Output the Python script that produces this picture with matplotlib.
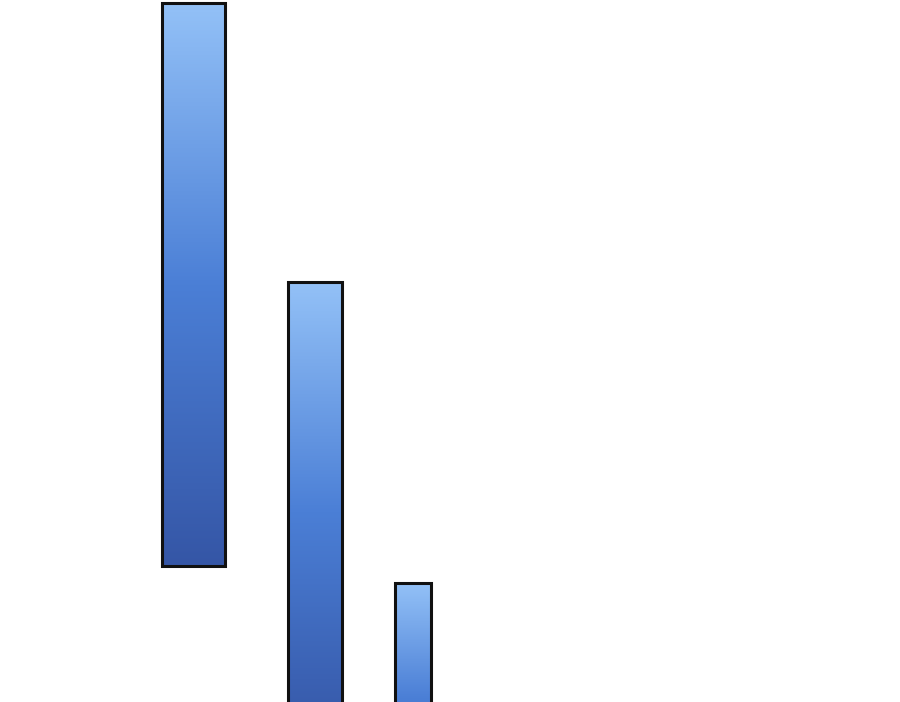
import matplotlib
matplotlib.use("Agg")
import matplotlib.pyplot as plt
import numpy as np
from matplotlib.colors import LinearSegmentedColormap

# valores das barras (escala do eixo = pixels da figura, y para cima)
categorias = ["A", "B", "C"]
inicio = [136, -40, -110]
fim = [699, 420, 119]

# layout
centros = [193, 314.5, 412.5]
larguras = [63, 54, 36]

cmap = LinearSegmentedColormap.from_list("azul", ["#3556a6", "#4b7fd6", "#93c1f7"])

fig = plt.figure(figsize=(9, 7.02), dpi=100)
ax = fig.add_axes([0, 0, 1, 1])
ax.set_xlim(0, 900)
ax.set_ylim(0, 702)
ax.axis("off")

grad = np.linspace(0, 1, 256).reshape(-1, 1)
for c, w, y0, y1 in zip(centros, larguras, inicio, fim):
    barra = ax.bar(c, y1 - y0, width=w, bottom=y0, facecolor="none",
                   edgecolor="#111111", linewidth=2.2, zorder=3)[0]
    img = ax.imshow(grad, cmap=cmap, aspect="auto", origin="lower",
                    extent=[c - w / 2, c + w / 2, y0, y1], zorder=2)
    img.set_clip_path(barra)

ax.set_xlim(0, 900)
ax.set_ylim(0, 702)

fig.savefig("out.png", dpi=100, facecolor="white")
